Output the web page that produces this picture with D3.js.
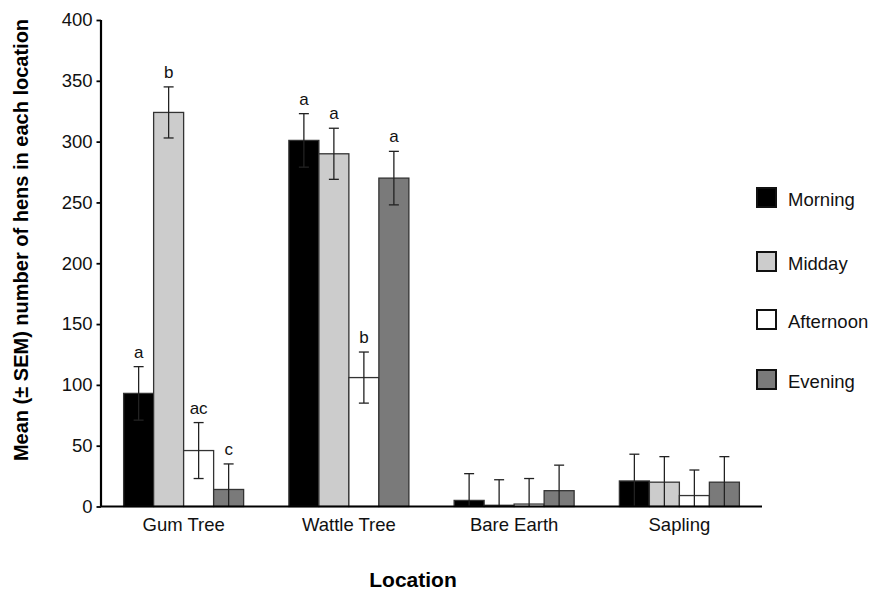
<!DOCTYPE html>
<html lang="en">
<head>
    <meta charset="UTF-8">
    <title>Hens by location</title>
    <script src="https://d3js.org/d3.v7.min.js"></script>
    <style>
        body { margin: 0; background: #fff; }
        svg { font-family: "Liberation Sans", Arial, sans-serif; }
    </style>
</head>
<body>
    <div id="chart"></div>
    <script>
        // data
        const locations = ["Gum Tree", "Wattle Tree", "Bare Earth", "Sapling"];
        const periods = ["Morning", "Midday", "Afternoon", "Evening"];
        const colors = ["#000000", "#cccccc", "#ffffff", "#7a7a7a"];
        const means = [
            [93, 324, 46, 14],
            [301, 290, 106, 270],
            [5, 1, 2, 13],
            [21, 20, 9, 20]
        ];
        const sems = [
            [22, 21, 23, 21],
            [22, 21, 21, 22],
            [22, 21, 21, 21],
            [22, 21, 21, 21]
        ];
        const letters = [
            ["a", "b", "ac", "c"],
            ["a", "a", "b", "a"],
            ["", "", "", ""],
            ["", "", "", ""]
        ];
        const yTicks = [0, 50, 100, 150, 200, 250, 300, 350, 400];

        const width = 872, height = 590;
        const plotLeft = 101, plotRight = 762, plotTop = 20, plotBottom = 506.5;

        const svg = d3.select("#chart").append("svg")
            .attr("width", width)
            .attr("height", height);

        const x0 = d3.scaleBand().domain(locations).range([plotLeft, plotRight]).padding(0);
        const barW = 30;
        const x1 = d3.scaleBand().domain(periods)
            .range([x0.bandwidth() / 2 - 2 * barW, x0.bandwidth() / 2 + 2 * barW]);
        const y = d3.scaleLinear().domain([0, 400]).range([plotBottom, plotTop]);

        const rows = [];
        locations.forEach((loc, i) => {
            periods.forEach((p, j) => {
                rows.push({ loc, p, j, v: means[i][j], e: sems[i][j], l: letters[i][j] });
            });
        });

        const g = svg.append("g");
        // bars
        g.selectAll("rect.bar").data(rows).join("rect")
            .attr("class", "bar")
            .attr("x", d => x0(d.loc) + x1(d.p))
            .attr("y", d => y(d.v))
            .attr("width", x1.bandwidth())
            .attr("height", d => y(0) - y(d.v))
            .attr("fill", d => colors[d.j])
            .attr("stroke", "#333")
            .attr("stroke-width", 1.3);

        // error bars
        const cap = 5;
        const eb = g.selectAll("g.err").data(rows).join("g")
            .attr("class", "err")
            .attr("transform", d => `translate(${x0(d.loc) + x1(d.p) + x1.bandwidth() / 2},0)`)
            .attr("stroke", "#222")
            .attr("stroke-width", 1.3);
        eb.append("line")
            .attr("y1", d => y(Math.max(0, d.v - d.e)))
            .attr("y2", d => y(d.v + d.e));
        eb.append("line")
            .attr("x1", -cap).attr("x2", cap)
            .attr("y1", d => y(d.v + d.e)).attr("y2", d => y(d.v + d.e));
        eb.filter(d => d.v - d.e > 0).append("line")
            .attr("x1", -cap).attr("x2", cap)
            .attr("y1", d => y(d.v - d.e)).attr("y2", d => y(d.v - d.e));

        // significance letters
        g.selectAll("text.sig").data(rows.filter(d => d.l)).join("text")
            .attr("class", "sig")
            .attr("x", d => x0(d.loc) + x1(d.p) + x1.bandwidth() / 2)
            .attr("y", d => y(d.v + d.e) - 9)
            .attr("text-anchor", "middle")
            .style("font-size", "17px")
            .attr("fill", "#111")
            .text(d => d.l);

        // y axis
        const yAxis = svg.append("g")
            .attr("transform", `translate(${plotLeft},0)`)
            .call(d3.axisLeft(y).tickValues(yTicks).tickSize(4.5).tickPadding(4));
        yAxis.select(".domain").attr("stroke-width", 2.2).attr("d", `M0,${plotTop}V${plotBottom}`);
        yAxis.selectAll(".tick line").attr("stroke-width", 1.8);
        yAxis.selectAll("text").style("font-size", "18.5px").attr("fill", "#111");

        // x axis
        const xAxis = svg.append("g")
            .attr("transform", `translate(0,${plotBottom})`)
            .call(d3.axisBottom(x0).tickSize(0).tickPadding(11));
        xAxis.select(".domain").attr("stroke-width", 2.2).attr("d", `M${plotLeft},0H${plotRight}`);
        xAxis.selectAll("text").style("font-size", "18.5px").attr("fill", "#111");

        // axis titles
        svg.append("text")
            .attr("transform", `translate(28,240) rotate(-90)`)
            .attr("text-anchor", "middle")
            .style("font-size", "20px")
            .style("font-weight", "bold")
            .text("Mean (± SEM) number of hens in each location");
        svg.append("text")
            .attr("x", 413)
            .attr("y", 587)
            .attr("text-anchor", "middle")
            .style("font-size", "21px")
            .style("font-weight", "bold")
            .text("Location");

        // legend
        const legY = [198, 262, 320, 380];
        const leg = svg.append("g").selectAll("g").data(periods).join("g")
            .attr("transform", (d, i) => `translate(757,${legY[i]})`);
        leg.append("rect")
            .attr("x", 0).attr("y", -10)
            .attr("width", 19).attr("height", 19)
            .attr("fill", (d, i) => colors[i])
            .attr("stroke", "#111")
            .attr("stroke-width", 2);
        leg.append("text")
            .attr("x", 31).attr("y", 0)
            .attr("dy", "0.42em")
            .style("font-size", "18.5px")
            .attr("fill", "#111")
            .text(d => d);
    </script>
</body>
</html>
